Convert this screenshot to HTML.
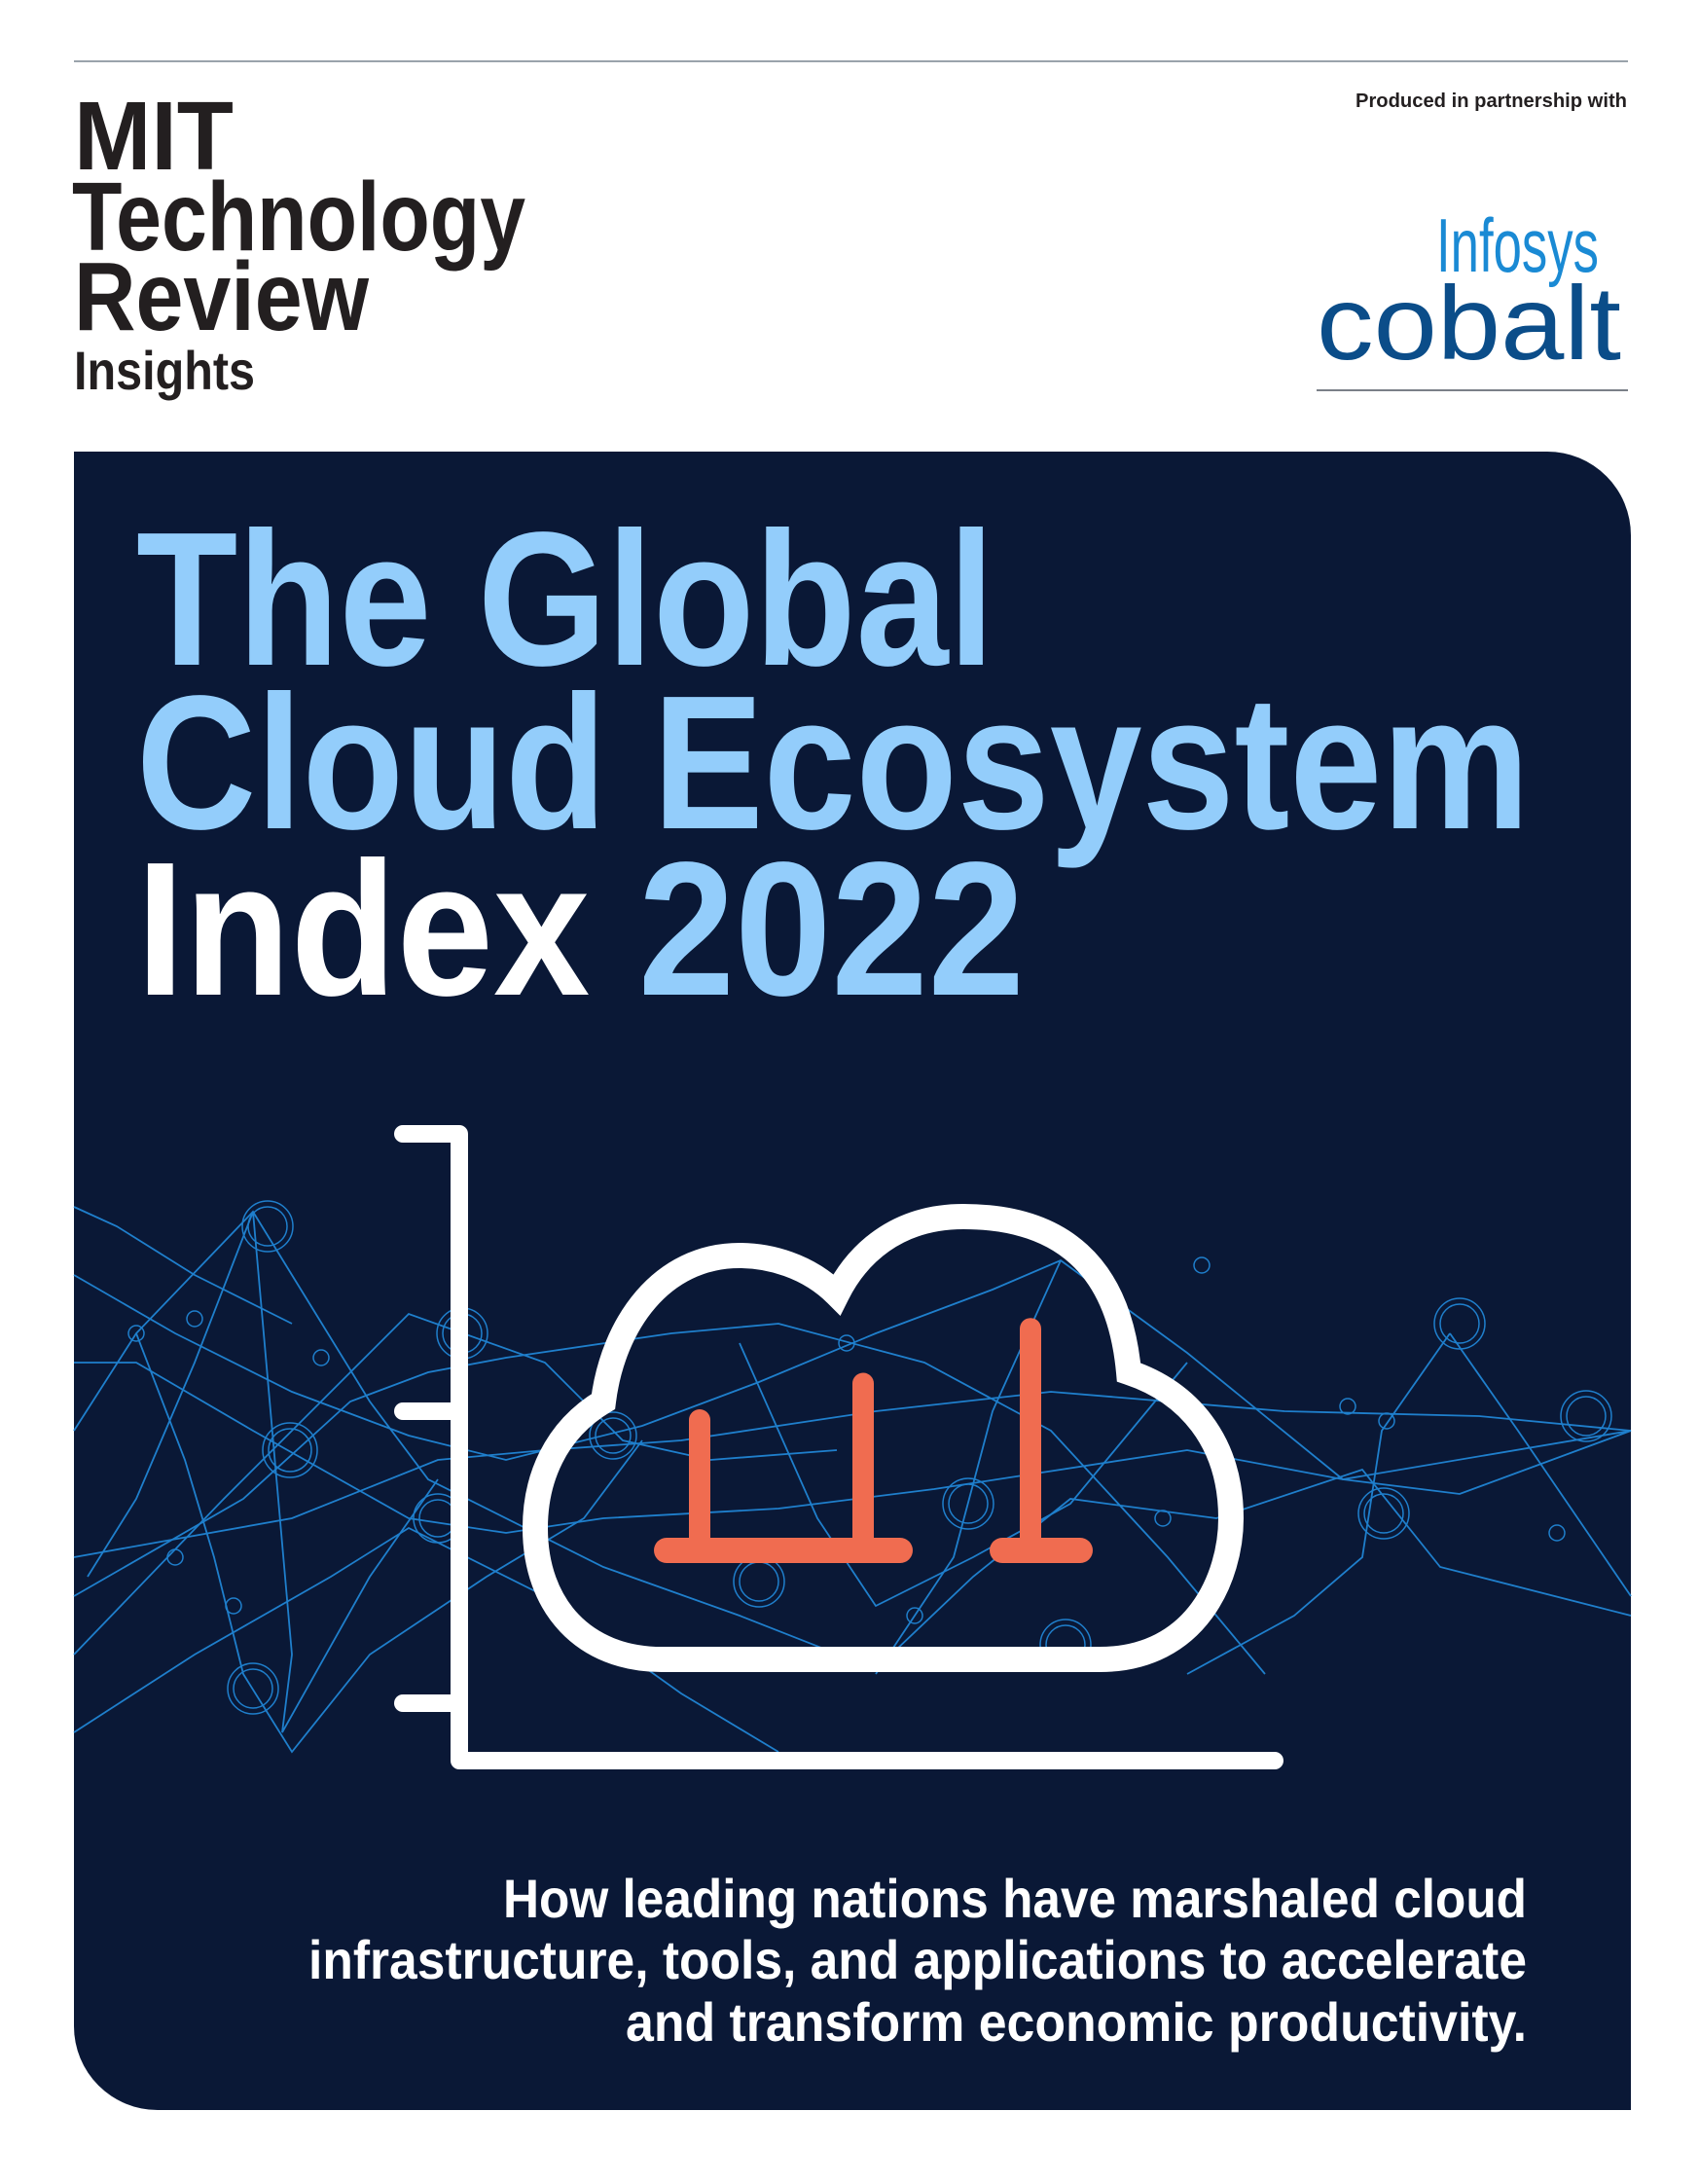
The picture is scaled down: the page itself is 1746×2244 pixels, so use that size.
<!DOCTYPE html>
<html><head><meta charset="utf-8"><style>
html,body{margin:0;padding:0;background:#fff;}
svg{display:block;}
text{font-family:"Liberation Sans",Arial,sans-serif;}
</style></head><body>
<svg id="cover" width="1746" height="2244" viewBox="0 0 1746 2244" xmlns="http://www.w3.org/2000/svg">
<rect width="1746" height="2244" fill="#fff"/>
<line x1="76" y1="63" x2="1673" y2="63" stroke="#9aa3ab" stroke-width="2"/>
<g fill="#231f20" font-weight="bold">
<text x="76" y="174" font-size="100" textLength="164" lengthAdjust="spacingAndGlyphs">MIT</text>
<text x="74" y="257" font-size="100" textLength="466" lengthAdjust="spacingAndGlyphs">Technology</text>
<text x="76" y="339" font-size="100" textLength="303" lengthAdjust="spacingAndGlyphs">Review</text>
<text x="76" y="400" font-size="56" textLength="186" lengthAdjust="spacingAndGlyphs">Insights</text>
</g>
<text x="1393" y="110" font-size="20" font-weight="bold" fill="#231f20" textLength="279" lengthAdjust="spacingAndGlyphs">Produced in partnership with</text>
<g>
<text x="1476" y="279" font-size="78" fill="#1a8ad4" textLength="167" lengthAdjust="spacingAndGlyphs">Infosys</text>
<text x="1353" y="369" font-size="108" fill="#0b4d89" textLength="313" lengthAdjust="spacingAndGlyphs">cobalt</text>
</g>
<line x1="1353" y1="401" x2="1673" y2="401" stroke="#7a8088" stroke-width="2"/>
<path d="M76 464 H1590 A86 86 0 0 1 1676 550 V2168 H162 A86 86 0 0 1 76 2082 Z" fill="#0a1836"/>
<g font-weight="bold" font-size="196">
<text x="140" y="683" fill="#93cdfb" textLength="882" lengthAdjust="spacingAndGlyphs">The Global</text>
<text x="140" y="851" fill="#93cdfb" textLength="1432" lengthAdjust="spacingAndGlyphs">Cloud Ecosystem</text>
<text x="140" y="1022" textLength="913" lengthAdjust="spacingAndGlyphs"><tspan fill="#ffffff">Index </tspan><tspan fill="#93cdfb">2022</tspan></text>
</g>
<g id="network" stroke="#1f7fcc" stroke-width="1.8" fill="none">
<polyline points="76,1310 180,1370 300,1430 420,1475 520,1500 660,1465 780,1420 900,1370 1020,1325 1090,1295 1220,1390 1380,1520 1676,1470"/>
<polyline points="76,1400 140,1400 260,1470 420,1560 520,1575 620,1560 800,1550 960,1530 1220,1490 1380,1520 1500,1535 1676,1470"/>
<polyline points="76,1600 300,1560 450,1500 560,1490 700,1480 900,1450 1080,1430 1320,1450 1520,1455 1676,1470"/>
<polyline points="76,1640 250,1540 360,1440 440,1410 520,1395 690,1370 800,1360 950,1400 1080,1470 1200,1600 1300,1720"/>
<polyline points="76,1470 140,1370 260,1245 300,1310 380,1440 440,1520 620,1610 760,1660 900,1715 1000,1620 1100,1540 1250,1560 1400,1510 1480,1610 1676,1660"/>
<polyline points="76,1700 230,1540 360,1410 420,1350 560,1400 640,1480 730,1500 860,1490"/>
<polyline points="76,1780 200,1700 340,1620 420,1570 560,1640 700,1740 800,1800"/>
<polyline points="260,1245 200,1400 140,1540 90,1620"/>
<polyline points="260,1245 300,1700 290,1780 380,1620 450,1520"/>
<polyline points="140,1370 190,1500 220,1600 250,1720 300,1800 380,1700 500,1620 600,1560 660,1480"/>
<polyline points="760,1380 840,1560 900,1650 1000,1600 1100,1545 1220,1400"/>
<polyline points="1090,1295 1020,1450 980,1600 900,1720"/>
<polyline points="1490,1370 1420,1470 1400,1600 1330,1660 1220,1720"/>
<polyline points="1490,1370 1560,1470 1676,1640"/>
<polyline points="76,1240 120,1260 200,1310 300,1360"/>
<g stroke-width="1.5">
<circle cx="275" cy="1260" r="26"/><circle cx="275" cy="1260" r="20"/>
<circle cx="475" cy="1370" r="26"/><circle cx="475" cy="1370" r="20"/>
<circle cx="298" cy="1490" r="28"/><circle cx="298" cy="1490" r="22"/>
<circle cx="450" cy="1560" r="25"/><circle cx="450" cy="1560" r="19"/>
<circle cx="260" cy="1735" r="26"/><circle cx="260" cy="1735" r="20"/>
<circle cx="1500" cy="1360" r="26"/><circle cx="1500" cy="1360" r="20"/>
<circle cx="1630" cy="1455" r="26"/><circle cx="1630" cy="1455" r="20"/>
<circle cx="1422" cy="1555" r="26"/><circle cx="1422" cy="1555" r="20"/>
<circle cx="995" cy="1545" r="26"/><circle cx="995" cy="1545" r="20"/>
<circle cx="1095" cy="1690" r="26"/><circle cx="1095" cy="1690" r="20"/>
<circle cx="780" cy="1625" r="26"/><circle cx="780" cy="1625" r="20"/>
<circle cx="630" cy="1475" r="24"/><circle cx="630" cy="1475" r="18"/>
<circle cx="140" cy="1370" r="8"/><circle cx="200" cy="1355" r="8"/><circle cx="330" cy="1395" r="8"/>
<circle cx="180" cy="1600" r="8"/><circle cx="240" cy="1650" r="8"/><circle cx="870" cy="1380" r="8"/>
<circle cx="1235" cy="1300" r="8"/><circle cx="1385" cy="1445" r="8"/><circle cx="1600" cy="1575" r="8"/>
<circle cx="1425" cy="1460" r="8"/><circle cx="940" cy="1660" r="8"/><circle cx="1195" cy="1560" r="8"/>
</g>
</g>
<g id="chart"></g>
<g font-weight="bold" font-size="56" fill="#ffffff" text-anchor="end">
<text x="1569" y="1970" textLength="1052" lengthAdjust="spacingAndGlyphs">How leading nations have marshaled cloud</text>
<text x="1569" y="2033" textLength="1252" lengthAdjust="spacingAndGlyphs">infrastructure, tools, and applications to accelerate</text>
<text x="1569" y="2097" textLength="926" lengthAdjust="spacingAndGlyphs">and transform economic productivity.</text>
</g>
</svg>
<script>
// Illustrative bar values (relative heights)
const categories = ["bar-1", "bar-2", "bar-3"];
const barValues = [100, 128, 170];
const yTickValues = [0, 1, 2];

const NS = "http://www.w3.org/2000/svg";
const g = document.getElementById("chart");
const baseY = 1593, yScale = v => baseY - v * 1.34;
const xScale = i => [719, 887, 1059][i];
function mk(tag, attrs) { const e = document.createElementNS(NS, tag); for (const k in attrs) e.setAttribute(k, attrs[k]); g.appendChild(e); return e; }

const axis = mk("path", {d: "M414 1165 H472 V1809 H1310", fill: "none", stroke: "#fff", "stroke-width": "18", "stroke-linecap": "round", "stroke-linejoin": "round"});


const tickYs = v => [1450, 1750][v - 1];
yTickValues.slice(1).forEach(v => {
  const t = mk("line", {x1: 414, x2: 472, y1: tickYs(v), y2: tickYs(v), stroke: "#fff", "stroke-width": "18", "stroke-linecap": "round"});
  
  
});
const cloud = mk("path", {d: "M680 1705 L1130 1705 C1230 1705 1265 1620 1265 1560 C1265 1480 1220 1430 1160 1410 C1150 1300 1090 1250 990 1250 C920 1250 880 1290 860 1330 C830 1300 790 1290 760 1290 C680 1290 630 1360 620 1440 C570 1470 550 1520 550 1570 C550 1650 600 1705 680 1705 Z", fill: "none", stroke: "#fff", "stroke-width": "26"});


barValues.forEach((v, i) => {
  const b = mk("line", {x1: xScale(i), x2: xScale(i), y1: baseY, y2: yScale(v), stroke: "#f06c50", "stroke-width": "22", "stroke-linecap": "round"});
  
  
});
const base1 = mk("line", {x1: 685, x2: 925, y1: baseY, y2: baseY, stroke: "#f06c50", "stroke-width": "26", "stroke-linecap": "round"});


const base2 = mk("line", {x1: 1030, x2: 1110, y1: baseY, y2: baseY, stroke: "#f06c50", "stroke-width": "26", "stroke-linecap": "round"});


</script>
</body></html>
